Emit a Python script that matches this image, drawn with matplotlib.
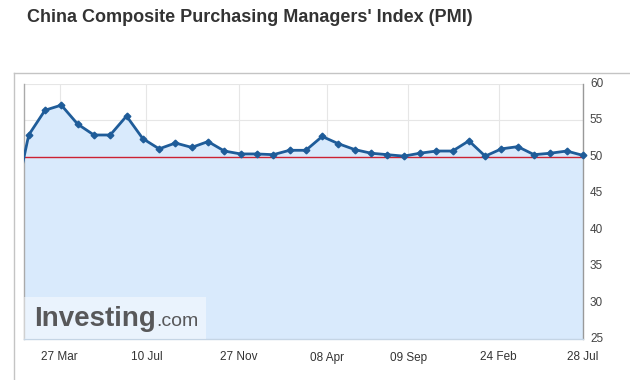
import matplotlib
matplotlib.use("Agg")
import matplotlib.pyplot as plt
from matplotlib.lines import Line2D
from matplotlib.patches import Rectangle

# ---- data ----
pmi_values = [42.5, 53.0, 56.4, 57.1, 54.5, 53.0, 53.0, 55.6, 52.5, 51.1, 51.9,
              51.3, 52.1, 50.8, 50.4, 50.4, 50.3, 50.9, 50.9, 52.8, 51.8, 51.0,
              50.5, 50.3, 50.1, 50.5, 50.8, 50.8, 52.2, 50.1, 51.1, 51.4, 50.3,
              50.5, 50.8, 50.2]
period_index = list(range(len(pmi_values)))
tick_labels = ["27 Mar", "10 Jul", "27 Nov", "08 Apr", "09 Sep", "24 Feb", "28 Jul"]
tick_index = [2.90, 8.22, 13.91, 19.27, 24.28, 29.83, 35.0]
y_ticks = [25, 30, 35, 40, 45, 50, 55, 60]
threshold = 50

W, H = 630, 380
fig = plt.figure(figsize=(W / 100, H / 100), dpi=100)
plt.rcParams['font.family'] = ['Liberation Sans', 'DejaVu Sans']

L, R, T, B = 24, 583, 84, 339
ax = fig.add_axes([L / W, 1 - B / H, (R - L) / W, (B - T) / H])

line_c = "#1f5c99"
ax.fill_between(period_index, pmi_values, 25, color="#d9eafc", zorder=1, linewidth=0)
ax.plot(period_index, pmi_values, color=line_c, lw=2.0, zorder=4)
ax.plot(period_index[1:], pmi_values[1:], linestyle="none", marker="D",
        markersize=3.4, color=line_c, zorder=5, clip_on=False)
ax.axhline(threshold, color="#cc2233", lw=1.0, zorder=3)

ax.set_xlim(0.711, 35.0)
ax.set_ylim(25, 60)
ax.set_yticks(y_ticks)
ax.set_xticks(tick_index)
ax.set_xticklabels(tick_labels)
ax.yaxis.tick_right()
ax.grid(True, color="#e6e6e6", lw=0.8, zorder=0)
ax.set_axisbelow(True)
ax.tick_params(axis="y", length=0, pad=5, labelsize=8.5, labelcolor="#444444")
ax.tick_params(axis="x", length=0, pad=9, labelsize=8.5, labelcolor="#333333")
for lab in ax.get_yticklabels():
    lab.set_verticalalignment("center")
ax.spines["top"].set_visible(False)
ax.spines["left"].set_color("#aaaaaa")
ax.spines["right"].set_color("#999999")
ax.spines["bottom"].set_color("#c5d5e5")
for s in ax.spines.values():
    s.set_linewidth(1.0)

# outer frame lines
fig.add_artist(Line2D([14 / W, 1], [1 - 73 / H, 1 - 73 / H], color="#c4c4c4", lw=1.0))
fig.add_artist(Line2D([14 / W, 14 / W], [1 - 73 / H, 0], color="#c4c4c4", lw=1.0))

# watermark
fig.add_artist(Rectangle((L / W, 1 - B / H), (206 - L) / W, (B - 297) / H,
                         transform=fig.transFigure, facecolor="#ffffff", alpha=0.45,
                         edgecolor="none", zorder=6))
t1 = fig.text(34 / W, 1 - 326 / H, "Investing", fontsize=20, fontweight="bold",
              color="#58585a", va="baseline", ha="left", zorder=7)
fig.canvas.draw()
bb = t1.get_window_extent()
fig.text(bb.x1 / W, 1 - 326 / H, ".com", fontsize=14, color="#58585a",
         va="baseline", ha="left", zorder=7)

fig.text(27 / W, 1 - 18 / H, "China Composite Purchasing Managers' Index (PMI)",
         fontsize=13, fontweight="bold", color="#333333", va="center", ha="left")

fig.savefig("out.png", dpi=100)
